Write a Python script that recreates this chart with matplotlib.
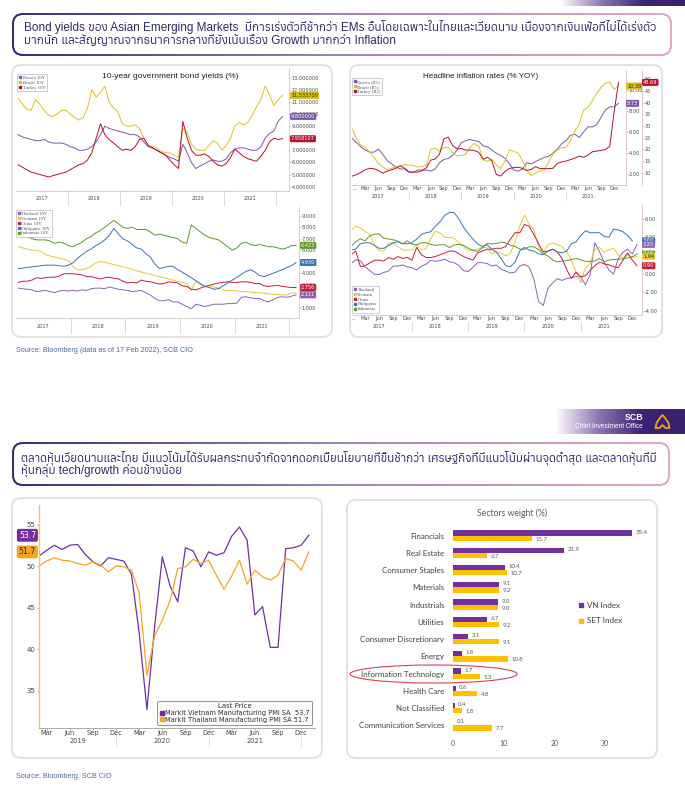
import numpy as np
import pandas as pd
import matplotlib
matplotlib.use('Agg')
import matplotlib.pyplot as plt
import matplotlib.font_manager as fm
from matplotlib.ft2font import FT2Font
from matplotlib.patches import FancyBboxPatch, Ellipse, Polygon
from matplotlib.collections import LineCollection
from matplotlib.colors import LinearSegmentedColormap
from matplotlib.lines import Line2D
from matplotlib.ticker import FormatStrFormatter
from matplotlib.transforms import blended_transform_factory as blend

W, H = 685, 796

# ---------------- data ----------------
# 10Y government bond yields, monthly Jan 2017 - Feb 2022
bond_months = pd.date_range('2017-01-01', periods=62, freq='MS')
russia_10y = [8.3, 8.1, 8.0, 7.9, 7.8, 7.8, 7.9, 7.7, 7.6, 7.6, 7.6, 7.5,
              7.3, 7.2, 7.0, 7.0, 7.1, 7.3, 7.7, 8.3, 9.0, 8.8, 8.7, 8.6,
              8.5, 8.4, 8.3, 8.3, 8.1, 7.7, 7.3, 7.2, 7.0, 6.8, 6.6, 6.4,
              6.3, 6.1, 7.5, 6.8, 6.0, 5.5, 5.7, 5.9, 6.1, 6.2, 6.1, 6.1,
              6.3, 6.8, 7.1, 7.2, 7.2, 7.1, 7.0, 7.0, 7.3, 8.0, 8.4, 8.6,
              9.4, 9.8]
brazil_10y = [11.3, 10.8, 10.4, 10.3, 11.2, 10.8, 10.3, 9.9, 9.8, 10.0, 10.3, 10.3,
              10.0, 9.7, 9.5, 9.7, 10.5, 12.0, 11.4, 11.8, 12.3, 11.0, 10.5, 10.2,
              9.2, 9.0, 9.0, 9.1, 8.8, 8.0, 7.4, 7.3, 7.2, 6.9, 6.8, 6.8,
              6.6, 6.4, 8.8, 8.5, 7.5, 7.1, 7.0, 7.0, 7.4, 7.8, 7.6, 7.0,
              7.4, 8.0, 9.0, 9.3, 9.1, 9.3, 9.9, 10.6, 11.2, 12.3, 11.6, 10.7,
              11.2, 11.5337]
turkey_10y = [5.8, 5.6, 5.4, 5.2, 5.1, 5.0, 4.9, 4.8, 4.9, 5.0, 5.1, 5.2,
              5.4, 5.6, 5.8, 5.9, 6.2, 6.8, 8.0, 9.2, 8.3, 7.9, 7.6, 7.3,
              7.0, 7.1, 7.0, 7.3, 7.9, 8.0, 7.4, 7.2, 7.0, 6.8, 6.6, 6.2,
              5.8, 5.5, 9.4, 8.0, 7.0, 6.6, 6.6, 6.7, 6.5, 6.1, 5.8, 5.7,
              5.9, 6.4, 7.1, 6.8, 6.5, 6.3, 6.2, 6.1, 6.5, 7.0, 7.7, 8.0,
              7.9, 7.958107]

thailand_10y = [2.7, 2.65, 2.6, 2.55, 2.4, 2.45, 2.5, 2.4, 2.3, 2.45, 2.5, 2.45,
                2.5, 2.45, 2.55, 2.5, 2.65, 2.7, 2.7, 2.65, 2.8, 2.7, 2.6, 2.55,
                2.5, 2.4, 2.45, 2.5, 2.3, 2.1, 1.8, 1.6, 1.6, 1.7, 1.5, 1.5,
                1.3, 1.1, 0.9, 1.3, 1.2, 1.1, 1.2, 1.3, 1.3, 1.3, 1.35, 1.35,
                1.4, 1.9, 1.95, 1.85, 1.8, 1.8, 1.6, 1.5, 1.7, 1.9, 1.95, 1.9,
                2.0, 2.111]
vietnam_10y = [6.3, 6.2, 6.1, 6.0, 6.0, 5.9, 5.6, 5.5, 5.4, 5.3, 5.2, 5.1,
               4.6, 4.3, 4.3, 4.4, 4.6, 4.9, 5.0, 4.95, 4.85, 4.75, 4.65, 4.55,
               4.45, 4.35, 4.2, 4.1, 4.0, 3.9, 3.8, 3.7, 3.6, 3.5, 3.4, 3.3,
               3.2, 3.1, 2.5, 3.3, 3.0, 2.8, 2.9, 2.8, 2.7, 2.55, 2.5, 2.5,
               2.45, 2.4, 2.4, 2.35, 2.3, 2.3, 2.25, 2.2, 2.15, 2.15, 2.1, 2.1,
               2.3, 2.25]
china_10y = [3.2, 3.3, 3.3, 3.4, 3.6, 3.55, 3.6, 3.65, 3.65, 3.75, 3.95, 3.95,
             3.95, 3.9, 3.85, 3.7, 3.7, 3.6, 3.5, 3.6, 3.65, 3.55, 3.5, 3.3,
             3.15, 3.2, 3.15, 3.4, 3.3, 3.25, 3.15, 3.05, 3.1, 3.25, 3.2, 3.15,
             2.9, 2.85, 2.6, 2.55, 2.7, 2.85, 2.95, 3.05, 3.15, 3.2, 3.25, 3.2,
             3.2, 3.25, 3.25, 3.2, 3.1, 3.1, 2.9, 2.85, 2.9, 2.95, 2.85, 2.8,
             2.75, 2.756]
philippines_10y = [4.4, 4.45, 4.5, 4.55, 4.6, 4.65, 4.7, 4.7, 4.7, 4.65, 4.6, 4.7,
                   4.9, 5.3, 5.6, 5.9, 6.1, 6.4, 6.6, 6.9, 7.3, 7.9, 7.4, 7.0,
                   6.8, 6.5, 6.2, 6.1, 5.7, 5.4, 4.8, 4.4, 4.5, 4.6, 4.6, 4.3,
                   4.1, 3.85, 3.6, 3.35, 3.1, 2.85, 2.75, 2.6, 2.65, 2.9, 3.15, 3.4,
                   3.65, 3.9, 4.15, 4.3, 4.1, 3.8, 3.7, 3.85, 4.0, 4.15, 4.3, 4.5,
                   4.65, 4.93]
indonesia_10y = [7.9, 7.6, 7.2, 7.0, 6.9, 6.9, 6.9, 6.8, 6.6, 6.7, 6.6, 6.4,
                 6.3, 6.5, 6.7, 7.0, 7.2, 7.5, 7.7, 8.0, 8.3, 8.6, 8.3, 8.0,
                 7.9, 8.0, 7.8, 7.8, 7.8, 7.6, 7.3, 7.4, 7.3, 7.2, 7.1, 7.0,
                 6.7, 6.6, 8.2, 7.9, 7.6, 7.3, 7.1, 7.0, 6.9, 6.6, 6.3, 6.0,
                 6.2, 6.6, 6.7, 6.5, 6.4, 6.5, 6.4, 6.3, 6.3, 6.2, 6.1, 6.2,
                 6.4, 6.423]

# headline inflation (% YoY), monthly Dec 2016 - Jan 2022
cpi_months = pd.date_range('2016-12-01', periods=62, freq='MS')
russia_cpi = [5.4,
              5.0, 4.6, 4.3, 4.1, 4.1, 4.4, 3.9, 3.3, 3.0, 2.7, 2.5, 2.5,
              2.2, 2.2, 2.4, 2.4, 2.4, 2.3, 2.5, 3.1, 3.4, 3.5, 3.8, 4.3,
              5.0, 5.2, 5.3, 5.2, 5.1, 4.7, 4.6, 4.3, 4.0, 3.8, 3.5, 3.0,
              2.4, 2.3, 2.5, 3.1, 3.0, 3.2, 3.4, 3.6, 3.7, 4.0, 4.4, 4.9,
              5.2, 5.7, 5.8, 5.5, 6.0, 6.5, 6.5, 6.7, 7.4, 8.1, 8.4, 8.4,
              8.73]
brazil_cpi = [6.29,
              5.35, 4.76, 4.57, 4.08, 3.60, 3.00, 2.71, 2.46, 2.54, 2.70, 2.80, 2.95,
              2.86, 2.84, 2.68, 2.76, 2.86, 4.39, 4.48, 4.19, 4.53, 4.56, 4.05, 3.75,
              3.78, 3.89, 4.58, 4.94, 4.66, 3.37, 3.22, 3.43, 2.89, 2.54, 3.27, 4.31,
              4.19, 4.01, 3.30, 2.40, 1.88, 2.13, 2.31, 2.44, 3.14, 3.92, 4.31, 4.52,
              4.56, 5.20, 6.10, 6.76, 8.06, 8.35, 8.99, 9.68, 10.25, 10.67, 10.74, 10.06,
              10.38]
turkey_cpi = [8.53,
              9.22, 10.13, 11.29, 11.87, 11.72, 10.90, 9.79, 10.68, 11.20, 11.90, 12.98, 11.92,
              10.35, 10.26, 10.23, 10.85, 12.15, 15.39, 15.85, 17.90, 24.52, 25.24, 21.62, 20.30,
              20.35, 19.67, 19.71, 19.50, 18.71, 15.72, 16.65, 15.01, 9.26, 8.55, 10.56, 11.84,
              12.15, 12.37, 11.86, 10.94, 11.39, 12.62, 11.76, 11.77, 11.75, 11.89, 14.03, 14.60,
              14.97, 15.61, 16.19, 17.14, 16.59, 17.53, 18.95, 19.25, 19.58, 19.89, 21.31, 36.08,
              48.69]

thailand_cpi = [1.13,
                1.55, 1.44, 0.76, 0.38, -0.04, -0.05, 0.17, 0.32, 0.86, 0.86, 0.98, 0.78,
                0.68, 0.44, 0.84, 1.07, 1.49, 1.38, 1.46, 1.62, 1.33, 1.23, 0.94, 0.36,
                0.27, 0.73, 1.24, 1.23, 1.15, 0.87, 0.98, 0.52, 0.32, 0.11, 0.21, 0.87,
                1.05, 0.74, -0.54, -2.99, -3.44, -1.57, -0.98, -0.50, -0.70, -0.50, -0.41, -0.27,
                -0.34, -1.17, -0.08, 3.41, 2.44, 1.25, 0.45, -0.02, 1.68, 2.38, 2.71, 2.17,
                3.23]
vietnam_cpi = [4.74,
               5.22, 5.02, 4.65, 4.30, 3.19, 2.54, 2.52, 3.35, 3.40, 2.98, 2.62, 2.60,
               2.65, 3.15, 2.66, 2.75, 3.86, 4.67, 4.46, 3.98, 3.98, 3.89, 3.46, 2.98,
               2.56, 2.64, 2.70, 2.93, 2.88, 2.16, 2.44, 2.26, 1.98, 2.24, 3.52, 5.23,
               6.43, 5.40, 4.87, 2.93, 2.40, 3.17, 3.39, 3.18, 2.98, 2.47, 1.48, 0.19,
               -0.97, 0.70, 1.16, 2.70, 2.90, 2.41, 2.64, 2.82, 2.06, 1.77, 2.10, 1.81,
               1.94]
china_cpi = [2.1,
             2.5, 0.8, 0.9, 1.2, 1.5, 1.5, 1.4, 1.8, 1.6, 1.9, 1.7, 1.8,
             1.5, 2.9, 2.1, 1.8, 1.8, 1.9, 2.1, 2.3, 2.5, 2.5, 2.2, 1.9,
             1.7, 1.5, 2.3, 2.5, 2.7, 2.7, 2.8, 2.8, 3.0, 3.8, 4.5, 4.5,
             5.4, 5.2, 4.3, 3.3, 2.4, 2.5, 2.7, 2.4, 1.7, 0.5, -0.5, 0.2,
             -0.3, -0.2, 0.4, 0.9, 1.3, 1.1, 1.0, 0.8, 0.7, 1.5, 2.3, 1.5,
             0.9]
philippines_cpi = [2.6,
                   2.7, 3.3, 3.4, 3.4, 3.1, 2.8, 2.8, 3.1, 3.4, 3.5, 3.3, 3.3,
                   3.4, 3.8, 4.3, 4.5, 4.6, 5.2, 5.7, 6.4, 6.7, 6.7, 6.0, 5.1,
                   4.4, 3.8, 3.3, 3.0, 3.2, 2.7, 2.4, 1.7, 0.9, 0.8, 1.3, 2.5,
                   2.9, 2.6, 2.5, 2.2, 2.1, 2.5, 2.7, 2.4, 2.3, 2.5, 3.3, 3.5,
                   4.2, 4.7, 4.5, 4.5, 4.5, 4.1, 4.0, 4.9, 4.8, 4.6, 4.2, 3.6]
indonesia_cpi = [3.02,
                 3.49, 3.83, 3.61, 4.17, 4.33, 4.37, 3.88, 3.82, 3.72, 3.58, 3.30, 3.61,
                 3.25, 3.18, 3.40, 3.41, 3.23, 3.12, 3.18, 3.20, 2.88, 3.16, 3.23, 3.13,
                 2.82, 2.57, 2.48, 2.83, 3.32, 3.28, 3.32, 3.49, 3.39, 3.13, 3.00, 2.72,
                 2.68, 2.98, 2.96, 2.67, 2.19, 1.96, 1.54, 1.32, 1.42, 1.44, 1.59, 1.68,
                 1.55, 1.38, 1.37, 1.42, 1.68, 1.33, 1.52, 1.59, 1.60, 1.66, 1.75, 1.87,
                 2.18]

# manufacturing PMI, monthly Feb 2019 - Jan 2022
pmi_months = pd.date_range('2019-02-01', periods=36, freq='MS')
vietnam_pmi = [51.2, 51.9, 52.5, 52.0, 52.5, 52.6, 51.4, 50.5, 50.0, 51.0, 50.8,
               50.6, 49.0, 41.9, 32.7, 42.7, 51.1, 47.6, 45.7, 52.2, 51.8, 49.9, 51.7,
               51.3, 51.6, 53.6, 54.7, 53.1, 44.1, 45.1, 40.2, 40.2, 52.1, 52.2, 52.5,
               53.7]
thailand_pmi = [50.0, 50.6, 51.0, 50.7, 50.6, 50.3, 50.1, 50.5, 50.1, 49.3, 50.0,
                49.9, 49.5, 46.7, 36.8, 41.6, 43.5, 45.8, 49.7, 49.9, 50.8, 50.3, 50.7,
                48.9, 47.2, 48.8, 50.7, 47.8, 49.5, 48.7, 48.3, 48.9, 50.9, 50.6, 49.5,
                51.7]

# sector weights (%)
sectors = ['Financials', 'Real Estate', 'Consumer Staples', 'Materials', 'Industrials',
           'Utilities', 'Consumer Discretionary', 'Energy', 'Information Technology',
           'Health Care', 'Not Classified', 'Communication Services']
vn_weight = [35.4, 21.9, 10.4, 9.1, 9.0, 6.7, 3.1, 1.8, 1.7, 0.6, 0.4, 0.1]
set_weight = [15.7, 6.7, 10.7, 9.2, 9.0, 9.2, 9.1, 10.8, 5.3, 4.8, 1.8, 7.7]

header1 = ['Bond yields ของ Asian Emerging Markets  มีการเร่งตัวที่ช้ากว่า EMs อื่นโดยเฉพาะในไทยและเวียดนาม เนื่องจากเงินเฟ้อที่ไม่ได้เร่งตัว',
           'มากนัก และสัญญาณจากธนาคารกลางที่ยังเน้นเรื่อง Growth มากกว่า Inflation']
header2 = ['ตลาดหุ้นเวียดนามและไทย มีแนวโน้มได้รับผลกระทบจำกัดจากดอกเบี้ยนโยบายที่ขึ้นช้ากว่า เศรษฐกิจที่มีแนวโน้มผ่านจุดต่ำสุด และตลาดหุ้นที่มี',
           'หุ้นกลุ่ม tech/growth ค่อนข้างน้อย']

# ---------------- fonts ----------------
thai_fonts = []
for f in fm.fontManager.ttflist:
    try:
        if 0x0E01 in FT2Font(f.fname).get_charmap():
            thai_fonts.append(f.name)
    except Exception:
        pass
THAI = ['Liberation Sans'] + sorted(set(thai_fonts))[:1] + ['DejaVu Sans']

# ---------------- helpers ----------------
fig = plt.figure(figsize=(W / 100, H / 100), dpi=100)


def add_ax(x0, y0, x1, y1, **kw):
    return fig.add_axes([x0 / W, 1 - y1 / H, (x1 - x0) / W, (y1 - y0) / H], **kw)


def fx(x):
    return x / W


def fy(y):
    return 1 - y / H


def dec_year(idx, shift=0.0):
    return np.asarray(idx.year + (idx.month - 1 + shift) / 12, dtype=float)


back = add_ax(0, 0, W, H, zorder=0)
front = add_ax(0, 0, W, H, zorder=10)
for a in (back, front):
    a.set_xlim(0, W)
    a.set_ylim(H, 0)
    a.axis('off')
    a.patch.set_alpha(0)


def gradient_frame(x0, y0, x1, y1, colors, r=10, lw=1.3):
    box = FancyBboxPatch((x0, y0), x1 - x0, y1 - y0, boxstyle=f'round,pad=0,rounding_size={r}')
    pts = box.get_path().to_polygons()[0]
    d = np.r_[0, np.cumsum(np.hypot(*np.diff(pts, axis=0).T))]
    t = np.linspace(0, d[-1], 1500)
    xs = np.interp(t, d, pts[:, 0])
    ys = np.interp(t, d, pts[:, 1])
    segs = np.stack([np.c_[xs[:-1], ys[:-1]], np.c_[xs[1:], ys[1:]]], axis=1)
    cmap = LinearSegmentedColormap.from_list('hdr', colors)
    lc = LineCollection(segs, colors=cmap((xs[:-1] - x0) / (x1 - x0)), linewidths=lw, capstyle='round')
    back.add_collection(lc)


def panel(x0, y0, x1, y1):
    back.add_patch(FancyBboxPatch((x0, y0), x1 - x0, y1 - y0, boxstyle='round,pad=0,rounding_size=9',
                                  fc='white', ec='#e2e2e2', lw=1.4))


def bb_axes(x0, y0, x1, y1):
    ax = add_ax(x0, y0, x1, y1, zorder=2)
    ax.set_facecolor('none')
    ax.spines['left'].set_visible(False)
    ax.spines['top'].set_visible(False)
    ax.spines['bottom'].set_color('#c6c6c6')
    ax.spines['bottom'].set_linewidth(0.6)
    ax.spines['right'].set_color('#dcc3cc')
    ax.spines['right'].set_linewidth(0.6)
    ax.yaxis.tick_right()
    ax.tick_params(axis='y', labelsize=3.6, labelcolor='#4a4a4a', color='#9a9a9a',
                   length=1.5, width=0.4, pad=0.6)
    ax.tick_params(axis='x', labelsize=3.6, labelcolor='#4a4a4a', length=0, pad=0.6)
    return ax


def bb_legend(ax, names, colors, loc, anchor):
    handles = [Line2D([], [], ls='none', marker='s', ms=1.8, color=c) for c in colors]
    leg = ax.legend(handles, names, loc=loc, bbox_to_anchor=anchor,
                    prop={'family': 'Liberation Serif', 'size': 3.4}, frameon=True, fancybox=False,
                    edgecolor='#a8a8a8', framealpha=1, handlelength=0.5, handletextpad=0.3,
                    borderpad=0.35, labelspacing=0.12, borderaxespad=0)
    leg.get_frame().set_linewidth(0.4)
    for t in leg.get_texts():
        t.set_color('#555566')


def tag(ax, x_px, value, text, fc, tc='white', ha='left', fs=3.6, pad=0.2):
    ax.text(fx(x_px), value, text, transform=blend(fig.transFigure, ax.transData),
            ha=ha, va='center', fontsize=fs, color=tc, clip_on=False, zorder=6,
            bbox=dict(boxstyle=f'round,pad={pad},rounding_size=0.25', fc=fc, ec='none'))


def year_band(ax, years, y_top, y_label, y_bottom):
    tr = blend(ax.transData, fig.transFigure)
    for yr in years:
        ax.text(yr + 0.5, fy(y_label), str(yr), transform=tr, ha='center', va='center',
                fontsize=3.6, color='#4a4a4a')
        ax.plot([yr + 1, yr + 1], [fy(y_top), fy(y_bottom)], transform=tr,
                color='#d4d4d4', lw=0.6, clip_on=False)


def month_axis(ax, years, year_pos, y_year, seps, y_sep, fs=3.6, dots=None):
    ticks, labels = [], []
    if dots is not None:
        ticks.append(dots)
        labels.append('...')
    for yr in years:
        for m, name in zip((3, 6, 9, 12), ('Mar', 'Jun', 'Sep', 'Dec')):
            ticks.append(yr + (m - 1) / 12)
            labels.append(name)
    ax.set_xticks(ticks, labels)
    tr = blend(ax.transData, fig.transFigure)
    for yr, pos in zip(years, year_pos):
        ax.text(pos, fy(y_year), str(yr), transform=tr, ha='center', va='center',
                fontsize=fs, color='#4a4a4a')
    for s in seps:
        ax.plot([s, s], [fy(y_sep[0]), fy(y_sep[1])], transform=tr, color='#d4d4d4',
                lw=0.6, clip_on=False)


# ---------------- page decoration ----------------
band_cmap = LinearSegmentedColormap.from_list('band', ['#ffffff', '#8d77b3', '#3d2373', '#3a2170'])
back.imshow(np.linspace(0, 1, 256)[None, :], extent=(560, 685, 6, 0), cmap=band_cmap, aspect='auto', zorder=1)
back.imshow(np.linspace(0, 1, 256)[None, :], extent=(555, 685, 434, 409), cmap=band_cmap, aspect='auto', zorder=1)
back.set_xlim(0, W)
back.set_ylim(H, 0)
back.text(643, 417.5, 'SCB', color='white', fontsize=6.3, fontweight='bold', ha='right', va='center',
          family='Liberation Sans')
back.text(643, 426.5, 'Chief Investment Office', color='white', fontsize=4.7, ha='right', va='center',
          family='Liberation Sans')
back.add_patch(Polygon([(655.5, 428), (656.5, 423), (659.5, 418.5), (662.5, 415), (665.5, 418.5),
                        (668.5, 423), (669.5, 428), (665.5, 428), (662.5, 425), (659.5, 428)],
                       closed=True, fill=False, ec='#e6a522', lw=1.3, joinstyle='round', zorder=3))

hdr_colors = ['#3b2876', '#9d82b6', '#e4aabb']
gradient_frame(13, 14, 671, 55, hdr_colors)
gradient_frame(13, 443, 669, 485, hdr_colors)
for txt, yy in zip(header1, (27.5, 41.5)):
    back.text(24, yy, txt, fontsize=8.5, color='#2c2b6b', va='center', family=THAI)
for txt, yy in zip(header2, (457.5, 471.5)):
    back.text(21, yy, txt, fontsize=8.4, color='#2c2b6b', va='center', family=THAI)

panel(12, 65, 332, 337)
panel(350, 65, 662, 337)
panel(12, 498, 322, 758)
panel(347, 500, 657, 758)

back.text(16, 350, 'Source: Bloomberg (data as of 17 Feb 2022), SCB CIO', fontsize=5.2,
          color='#4d6b9a', va='center', family='Liberation Sans')
back.text(16, 776, 'Source: Bloomberg, SCB CIO', fontsize=5.2, color='#4d6b9a', va='center',
          family='Liberation Sans')

# ---------------- chart A1: EM 10Y yields ----------------
bx = dec_year(bond_months, 0.5)
axA1 = bb_axes(16, 68, 289, 191)
for vals, c in [(russia_10y, '#7b58a8'), (brazil_10y, '#dcc21e'), (turkey_10y, '#b4122c')]:
    axA1.plot(bx, vals, color=c, lw=0.7)
axA1.set_xlim(2017, 2022.25)
axA1.set_ylim(3.64, 13.8)
axA1.set_yticks(np.arange(4, 14))
axA1.yaxis.set_major_formatter(FormatStrFormatter('%.6f'))
axA1.set_xticks([])
year_band(axA1, range(2017, 2022), 191, 199, 205)
bb_legend(axA1, ['Russia 10Y', 'Brazil 10Y', 'Turkey 10Y'], ['#7b58a8', '#dcc21e', '#b4122c'],
          'upper left', (0.004, 0.951))
tag(axA1, 291, brazil_10y[-1], f'{brazil_10y[-1]:.6f}', '#d9bd12', tc='#3a3000')
tag(axA1, 291, russia_10y[-1], f'{russia_10y[-1]:.6f}', '#7b58a8')
tag(axA1, 291, turkey_10y[-1], f'{turkey_10y[-1]:.6f}', '#b4122c')
back.text(170, 76, '10-year government bond yields (%)', fontsize=6, ha='center', va='center',
          color='#1f1f1f', family='Liberation Sans', zorder=5)

# ---------------- chart A2: Asian 10Y yields ----------------
axA2 = bb_axes(16, 207, 299, 318)
asia_10y = [('Thailand 10Y', thailand_10y, '#8a63b8'), ('Vietnam 10Y', vietnam_10y, '#e3cb35'),
            ('China 10Y', china_10y, '#c41e3a'), ('Philippine 10Y', philippines_10y, '#3b73b4'),
            ('Indonesia 10Y', indonesia_10y, '#5b9a2b')]
for name, vals, c in asia_10y:
    axA2.plot(bx, vals, color=c, lw=0.7)
axA2.set_xlim(2017, 2022.18)
axA2.set_ylim(0.1, 9.76)
axA2.set_yticks(np.arange(1, 10))
axA2.yaxis.set_major_formatter(FormatStrFormatter('%.3f'))
axA2.set_xticks([])
year_band(axA2, range(2017, 2022), 318, 326, 333)
bb_legend(axA2, [a[0] for a in asia_10y], [a[2] for a in asia_10y], 'upper left', (0.0, 0.973))
tag(axA2, 301, indonesia_10y[-1], f'{indonesia_10y[-1]:.3f}', '#5b9a2b')
tag(axA2, 301, philippines_10y[-1], f'{philippines_10y[-1]:.3f}', '#3b73b4')
tag(axA2, 301, vietnam_10y[-1], f'{vietnam_10y[-1]:.3f}', '#e3cb35', tc='#3a3000')
tag(axA2, 301, china_10y[-1], f'{china_10y[-1]:.3f}', '#c41e3a')
tag(axA2, 301, thailand_10y[-1], f'{thailand_10y[-1]:.3f}', '#8a63b8')

# ---------------- chart B1: EM headline inflation ----------------
cx = dec_year(cpi_months)
axB1 = bb_axes(352, 70, 625.7, 185)
axB1r = axB1.twinx()
axB1.yaxis.tick_right()
axB1r.set_facecolor('none')
for s in ('left', 'top', 'bottom'):
    axB1r.spines[s].set_visible(False)
axB1r.spines['right'].set_position(('axes', (641.7 - 352) / (625.7 - 352)))
axB1r.spines['right'].set_color('#dcc3cc')
axB1r.spines['right'].set_linewidth(0.6)
axB1r.tick_params(axis='y', labelsize=3.6, labelcolor='#4a4a4a', color='#9a9a9a',
                  length=1.5, width=0.4, pad=0.6)
axB1.plot(cx, russia_cpi, color='#7b58a8', lw=0.7)
axB1.plot(cx, brazil_cpi, color='#dcc21e', lw=0.7)
axB1r.plot(cx, turkey_cpi, color='#b4122c', lw=0.7)
axB1.set_xlim(2017 - 1.05 / 12, 2017 + 61.65 / 12)
axB1.set_ylim(0.98, 11.9)
axB1.set_yticks([2, 4, 6, 8, 10])
axB1.yaxis.set_major_formatter(FormatStrFormatter('%.2f'))
axB1r.set_ylim(4.73, 54)
axB1r.set_yticks(np.arange(10, 55, 5))
month_axis(axB1, range(2017, 2022), [yr + 5 / 12 for yr in range(2017, 2022)], 196,
           range(2018, 2022), (192, 200), dots=2017 - 0.4 / 12)
bb_legend(axB1, ['Russia (R1)', 'Brazil (R1)', 'Turkey (R2)'], ['#7b58a8', '#dcc21e', '#b4122c'],
          'upper left', (0.0, 0.93))
tag(axB1, 627, brazil_cpi[-1], f'{brazil_cpi[-1]:.2f}', '#d9bd12', tc='#3a3000')
tag(axB1, 627, russia_cpi[-1], f'{russia_cpi[-1]:.2f}', '#7b58a8')
tag(axB1r, 643, turkey_cpi[-1], f'{turkey_cpi[-1]:.2f}', '#b4122c')
back.text(481, 76, 'Headline inflation rates (% YOY)', fontsize=5.8, ha='center', va='center',
          color='#1f1f1f', family='Liberation Sans', zorder=5)

# ---------------- chart B2: Asian headline inflation ----------------
axB2 = bb_axes(352, 205, 641.7, 315)
asia_cpi = [('Thailand', thailand_cpi, '#8a63b8'), ('Vietnam', vietnam_cpi, '#e3cb35'),
            ('China', china_cpi, '#c41e3a'), ('Philippine', philippines_cpi, '#3b73b4'),
            ('Indonesia', indonesia_cpi, '#5b9a2b')]
for name, vals, c in asia_cpi:
    axB2.plot(cx[:len(vals)], vals, color=c, lw=0.7)
axB2.set_xlim(2017 - 0.79 / 12, 2017 + 61.0 / 12)
axB2.set_ylim(-4.47, 7.52)
axB2.set_yticks([-4, -2, 0, 2, 4, 6])
axB2.yaxis.set_major_formatter(FormatStrFormatter('%.2f'))
month_axis(axB2, range(2017, 2022), [yr + 5 / 12 for yr in range(2017, 2022)], 326,
           range(2018, 2022), (322, 331), dots=2017 - 0.4 / 12)
bb_legend(axB2, [a[0] for a in asia_cpi], [a[2] for a in asia_cpi], 'lower left', (0.0, 0.018))
tag(axB2, 643, philippines_cpi[-1], f'{philippines_cpi[-1]:.2f}', '#3b73b4')
tag(axB2, 643, thailand_cpi[-1], f'{thailand_cpi[-1]:.2f}', '#8a63b8')
tag(axB2, 643, indonesia_cpi[-1], f'{indonesia_cpi[-1]:.2f}', '#5b9a2b')
tag(axB2, 643, vietnam_cpi[-1], f'{vietnam_cpi[-1]:.2f}', '#e3cb35', tc='#3a3000')
tag(axB2, 643, china_cpi[-1], f'{china_cpi[-1]:.2f}', '#c41e3a')

# ---------------- chart C: manufacturing PMI ----------------
px = dec_year(pmi_months)
axC = add_ax(39, 505, 315, 727.7, zorder=2)
axC.set_facecolor('none')
axC.plot(px, vietnam_pmi, color='#7030a0', lw=0.9)
axC.plot(px, thailand_pmi, color='#f5a623', lw=0.9)
axC.set_xlim(2019 + 1 / 12, 2019 + 36.8 / 12)
axC.set_ylim(30.52, 57.35)
axC.set_yticks([35, 40, 45, 50, 55])
for s in ('top', 'right'):
    axC.spines[s].set_visible(False)
axC.spines['left'].set_color('#f6c35c')
axC.spines['left'].set_linewidth(1.0)
axC.spines['bottom'].set_color('#9c9c9c')
axC.spines['bottom'].set_linewidth(0.6)
axC.tick_params(axis='y', labelsize=5, labelcolor='#444444', color='#9a9a9a', length=1.8, width=0.5, pad=0.8)
axC.tick_params(axis='x', labelsize=4.8, labelcolor='#444444', color='#9a9a9a', length=1.5, width=0.5, pad=0.5)
month_axis(axC, range(2019, 2022), [2019.5, 2020 + 5 / 12, 2021 + 5 / 12], 741,
           [yr + 11 / 12 for yr in range(2019, 2022)], (736.5, 745.5), fs=4.8)
pmi_handles = [Line2D([], [], ls='none', marker='s', ms=3.2, color=c) for c in ('#7030a0', '#f5a623')]
leg = axC.legend(pmi_handles,
                 [f'Markit Vietnam Manufacturing PMI SA  {vietnam_pmi[-1]:.1f}',
                  f'Markit Thailand Manufacturing PMI SA {thailand_pmi[-1]:.1f}'],
                 title='Last Price', loc='lower right', bbox_to_anchor=(0.99, 0.012),
                 fontsize=4.8, title_fontsize=5.0, frameon=True, fancybox=True, edgecolor='#7f7f7f',
                 facecolor='#fbfbfb', framealpha=1, handlelength=0.6, handletextpad=0.25,
                 borderpad=0.35, labelspacing=0.1, borderaxespad=0)
leg.get_frame().set_linewidth(0.6)
for t in leg.get_texts():
    t.set_color('#333333')
leg.get_title().set_color('#333333')
tag(axC, 36, vietnam_pmi[-1], f'{vietnam_pmi[-1]:.1f}', '#7030a0', ha='right', fs=5.6, pad=0.25)
tag(axC, 36, thailand_pmi[-1], f'{thailand_pmi[-1]:.1f}', '#f5a623', tc='#3a2500', ha='right', fs=5.6, pad=0.25)

# ---------------- chart D: sector weights ----------------
axD = add_ax(452.7, 527, 640, 734, zorder=2)
axD.set_facecolor('none')
yy = np.arange(len(sectors))
axD.barh(yy - 0.15, vn_weight, height=0.3, color='#7030a0')
axD.barh(yy + 0.15, set_weight, height=0.3, color='#ffc000')
for yi, v in zip(yy, vn_weight):
    axD.text(v + 0.7, yi - 0.2, f'{v:.1f}', fontsize=4.3, va='center', color='#595959', family='Lato')
for yi, v in zip(yy, set_weight):
    axD.text(v + 0.7, yi + 0.2, f'{v:.1f}', fontsize=4.3, va='center', color='#595959', family='Lato')
axD.set_xlim(0, 36.9)
axD.set_ylim(len(sectors) - 0.5, -0.5)
axD.set_yticks(yy, sectors)
axD.set_xticks([0, 10, 20, 30])
for s in axD.spines.values():
    s.set_visible(False)
axD.tick_params(axis='y', length=0, labelsize=5.7, labelcolor='#404040', pad=6)
axD.tick_params(axis='x', length=0, labelsize=5, labelcolor='#595959', pad=4.5)
for t in axD.get_xticklabels() + axD.get_yticklabels():
    t.set_family('Lato')
sec_handles = [Line2D([], [], ls='none', marker='s', ms=3.5, color=c) for c in ('#7030a0', '#ffc000')]
legD = axD.legend(sec_handles, ['VN Index', 'SET Index'], loc='center left', bbox_to_anchor=(0.655, 0.583),
                  frameon=False, prop={'family': 'Lato', 'size': 5.8}, handlelength=0.6,
                  handletextpad=0.5, labelspacing=1.0, borderaxespad=0)
for t in legD.get_texts():
    t.set_color('#404040')
back.text(512, 513, 'Sectors weight (%)', fontsize=6.2, color='#595959', ha='center', va='center',
          family='Lato', zorder=5)
front.add_patch(Ellipse((433.5, 674), 167, 18, fill=False, ec='#d9434e', lw=0.8))

fig.savefig('out.png', dpi=100)
